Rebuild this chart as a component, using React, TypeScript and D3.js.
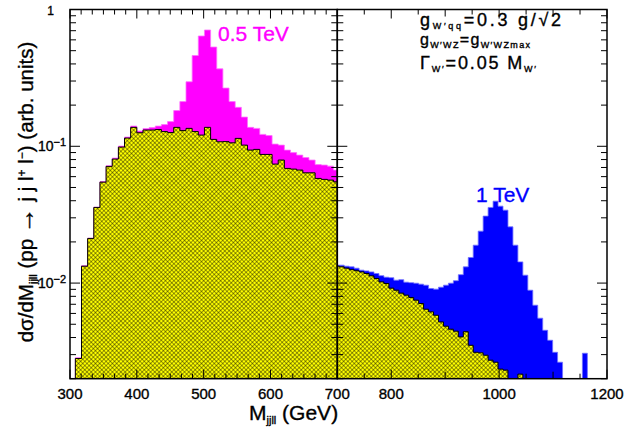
import React from "react";
import * as d3 from "d3";

// Histogram binning (GeV)
const FIRST_EDGE = 308;
const BIN_WIDTH = 9.2;
const RIGHT_FIRST_BIN = 42;

// Left panel (0.5 TeV): background and signal+background, bins 0..42
const bgLeft = [0.00281, 0.01329, 0.0212, 0.03573, 0.0547, 0.07129, 0.0806, 0.09865, 0.1148, 0.1375,
  0.1256, 0.1314, 0.1314, 0.1325, 0.1281, 0.126, 0.1375, 0.1302, 0.1352, 0.1281,
  0.1208, 0.1375, 0.1123, 0.1079, 0.1082, 0.106, 0.1142, 0.102, 0.0938, 0.0949,
  0.0872, 0.0872, 0.0741, 0.0793, 0.0689, 0.0681, 0.067, 0.064, 0.064, 0.0582,
  0.0573, 0.0566, 0.055];
const sigLeft = [0.00285, 0.0134, 0.02131, 0.0359, 0.0552, 0.0722, 0.082, 0.1003, 0.1168, 0.1405,
  0.1292, 0.1348, 0.137, 0.1405, 0.1441, 0.1516, 0.1825, 0.2123, 0.2963, 0.4608,
  0.64, 0.708, 0.5316, 0.3683, 0.2665, 0.2123, 0.1926, 0.1635, 0.1375, 0.1352,
  0.1222, 0.1198, 0.1038, 0.102, 0.0938, 0.0899, 0.0862, 0.0827, 0.0793, 0.0735,
  0.0729, 0.0716, 0.067];

// Right panel (1 TeV): bins 42..93
const bgRight = [0.0133, 0.01314, 0.01285, 0.01253, 0.01232, 0.01207, 0.01175, 0.01129, 0.0108, 0.0102,
  0.00993, 0.00918, 0.00887, 0.00844, 0.00816, 0.00785, 0.0075, 0.00709, 0.00644, 0.00616,
  0.00582, 0.0052, 0.00484, 0.0046, 0.00445, 0.00404, 0.00441, 0.00351, 0.00312, 0.00309,
  0.00297, 0.00273, 0.00264, 0.00235, 0.00231, 0, 0, 0.00216, 0, 0,
  0, 0, 0, 0, 0, 0, 0, 0, 0, 0,
  0, 0];
const sigRight = [0.01352, 0.01352, 0.01329, 0.01314, 0.01285, 0.01243, 0.01228, 0.01207, 0.01175, 0.01133,
  0.01104, 0.01095, 0.0105, 0.01059, 0.01015, 0.01007, 0.00998, 0.00982, 0.00965, 0.00913,
  0.00903, 0.00933, 0.00965, 0.00998, 0.01041, 0.01152, 0.01314, 0.01539, 0.01893, 0.02397,
  0.03087, 0.03573, 0.03972, 0.03651, 0.03414, 0.02577, 0.01893, 0.01429, 0.01142, 0.00887,
  0.00689, 0.00554, 0.00452, 0.00382, 0.00312, 0.00264, 0, 0, 0, 0,
  0.00307, 0];

const leftMajor = [300, 400, 500, 600, 700];
const rightLabeled = [800, 1000, 1200];
const yDomain = [0.002, 1];

const W = 636, H = 433;
const L = 70, MID = 337.3, R = 607, TOP = 9.5, BOT = 378.7;
const FONT = "'Liberation Sans', Arial, Helvetica, sans-serif";

export default function App() {
  const xL = d3.scaleLinear().domain([300, 700]).range([L, MID]);
  const xR = d3.scaleLinear().domain([700, 1200]).range([MID, R]);
  const y = d3.scaleLog().domain(yDomain).range([BOT, TOP]);
  const yv = (v: number) => (v > 0 ? Math.min(y(v), BOT) : BOT);

  const histPath = (vals: number[], firstBin: number, x: any) => {
    let d = "";
    vals.forEach((v, i) => {
      const x0 = x(FIRST_EDGE + (firstBin + i) * BIN_WIDTH);
      const x1 = x(FIRST_EDGE + (firstBin + i + 1) * BIN_WIDTH);
      const yy = yv(v);
      if (i === 0) d += `M${x0},${BOT}L${x0},${yy}`;
      else d += `L${x0},${yy}`;
      d += `L${x1},${yy}`;
      if (i === vals.length - 1) d += `L${x1},${BOT}Z`;
    });
    return d;
  };

  const yMinor: number[] = [];
  [-3, -2, -1].forEach((e) => {
    for (let m = 2; m <= 9; m++) {
      const v = m * Math.pow(10, e);
      if (v >= yDomain[0] && v <= yDomain[1]) yMinor.push(v);
    }
  });
  const yMajor = [1, 0.1, 0.01];

  const ticks: JSX.Element[] = [];
  let key = 0;
  const line = (x1: number, y1: number, x2: number, y2: number, w = 1) =>
    ticks.push(<line key={key++} x1={x1} y1={y1} x2={x2} y2={y2} stroke="#000" strokeWidth={w} />);

  const vAxes: [number, number][] = [[L, 1], [MID, -1], [MID, 1], [R, -1]];
  vAxes.forEach(([ax, dir]) => {
    yMajor.forEach((v) => line(ax, y(v), ax + dir * 10, y(v)));
    yMinor.forEach((v) => line(ax, y(v), ax + dir * 6, y(v)));
  });

  const isHundred = (v: number) => Math.abs(v - Math.round(v / 100) * 100) < 1e-6;
  for (let i = 0; i <= 24; i++) {
    const v = 300 + (i * 100) / 6;
    const len = isHundred(v) ? 9 : 5;
    line(xL(v), BOT, xL(v), BOT - len);
    line(xL(v), TOP, xL(v), TOP + len);
  }
  for (let v = 700; v <= 1200; v += 50) {
    const len = rightLabeled.includes(v) ? 9 : v % 100 === 0 ? 7 : 5;
    line(xR(v), BOT, xR(v), BOT - len);
    line(xR(v), TOP, xR(v), TOP + len);
  }

  const thick = { stroke: "currentColor", strokeWidth: 0.35 } as any;

  return (
    <div style={{ position: "absolute", left: 0, top: 0 }}>
      <svg width={W} height={H} viewBox={`0 0 ${W} ${H}`} style={{ display: "block", background: "#fff" }}>
        <defs>
          <pattern id="hatch" width={3} height={3} patternUnits="userSpaceOnUse" patternTransform="rotate(45)">
            <rect width={3} height={3} fill="#ffff00" />
            <line x1={0} y1={0} x2={3} y2={0} stroke="#000" strokeWidth={0.8} />
            <line x1={0} y1={0} x2={0} y2={3} stroke="#000" strokeWidth={0.8} />
          </pattern>
          <clipPath id="clipL"><rect x={L} y={TOP} width={MID - L} height={BOT - TOP} /></clipPath>
          <clipPath id="clipR"><rect x={MID} y={TOP} width={R - MID} height={BOT - TOP} /></clipPath>
        </defs>

        <g clipPath="url(#clipL)">
          <path d={histPath(sigLeft, 0, xL)} fill="#ff00ff" stroke="#ff70ff" strokeWidth={0.8} />
          <path d={histPath(bgLeft, 0, xL)} fill="url(#hatch)" stroke="#000" strokeWidth={1} />
        </g>
        <g clipPath="url(#clipR)">
          <path d={histPath(sigRight, RIGHT_FIRST_BIN, xR)} fill="#0000ff" stroke="#7070ff" strokeWidth={0.8} />
          <path d={histPath(bgRight, RIGHT_FIRST_BIN, xR)} fill="url(#hatch)" stroke="#000" strokeWidth={1} />
        </g>

        {ticks}
        <rect x={L} y={TOP} width={MID - L} height={BOT - TOP} fill="none" stroke="#000" strokeWidth={1.5} />
        <rect x={MID} y={TOP} width={R - MID} height={BOT - TOP} fill="none" stroke="#000" strokeWidth={1.5} />

        <g fontFamily={FONT} fill="#000" style={{ color: "#000" }}>
          <text x={54} y={15} fontSize={12} textAnchor="end" {...thick}>1</text>
          {[0.1, 0.01].map((v, i) => (
            <text key={v} x={66} y={y(v) + 5} fontSize={14} textAnchor="end" {...thick}>
              10<tspan fontSize={11} dy={-5}>{`\u2212${i + 1}`}</tspan>
            </text>
          ))}
          {leftMajor.map((v) => (
            <text key={"l" + v} x={xL(v)} y={399} fontSize={15} textAnchor="middle" {...thick}>{v}</text>
          ))}
          {rightLabeled.map((v) => (
            <text key={"r" + v} x={xR(v)} y={399} fontSize={15} textAnchor="middle" {...thick}>{v}</text>
          ))}
          <text x={249} y={420} fontSize={21} {...thick}>
            M<tspan fontSize={11} dy={4}>jjll</tspan><tspan dy={-4}> (GeV)</tspan>
          </text>
          <text transform="translate(33,192) rotate(-90)" fontSize={20.5} textAnchor="middle" {...thick}>
            dσ/dM<tspan fontSize={11} dy={4}>jjll</tspan>
            <tspan dy={-4}> (pp </tspan>
            <tspan fontSize={26} dy={1}>→</tspan>
            <tspan dy={-1}> j j l</tspan>
            <tspan fontSize={12} dy={-7}>+</tspan>
            <tspan dy={7}> l</tspan>
            <tspan fontSize={12} dy={-7}>−</tspan>
            <tspan dy={7}>) (arb. units)</tspan>
          </text>
          <text x={420} y={26} fontSize={18} textLength={141} lengthAdjust="spacing" {...thick}>
            g<tspan fontSize={9} dy={3}>W′qq</tspan><tspan dy={-3}>=0.3 g/√2</tspan>
          </text>
          <text x={420} y={45} fontSize={16} textLength={110} lengthAdjust="spacing" {...thick}>
            g<tspan fontSize={9} dy={3}>W′WZ</tspan><tspan dy={-3}>=g</tspan>
            <tspan fontSize={9} dy={3}>W′WZmax</tspan>
          </text>
          <text x={420} y={69} fontSize={18} textLength={116} lengthAdjust="spacing" {...thick}>
            Γ<tspan fontSize={9} dy={3}>W′</tspan><tspan dy={-3}>=0.05 M</tspan>
            <tspan fontSize={9} dy={3}>W′</tspan>
          </text>
          <text x={218} y={40.7} fontSize={21} fill="#ff00ff" style={{ color: "#ff00ff" }} {...thick}>0.5 TeV</text>
          <text x={476} y={202} fontSize={21} fill="#0000ff" style={{ color: "#0000ff" }} {...thick}>1 TeV</text>
        </g>
      </svg>
    </div>
  );
}
